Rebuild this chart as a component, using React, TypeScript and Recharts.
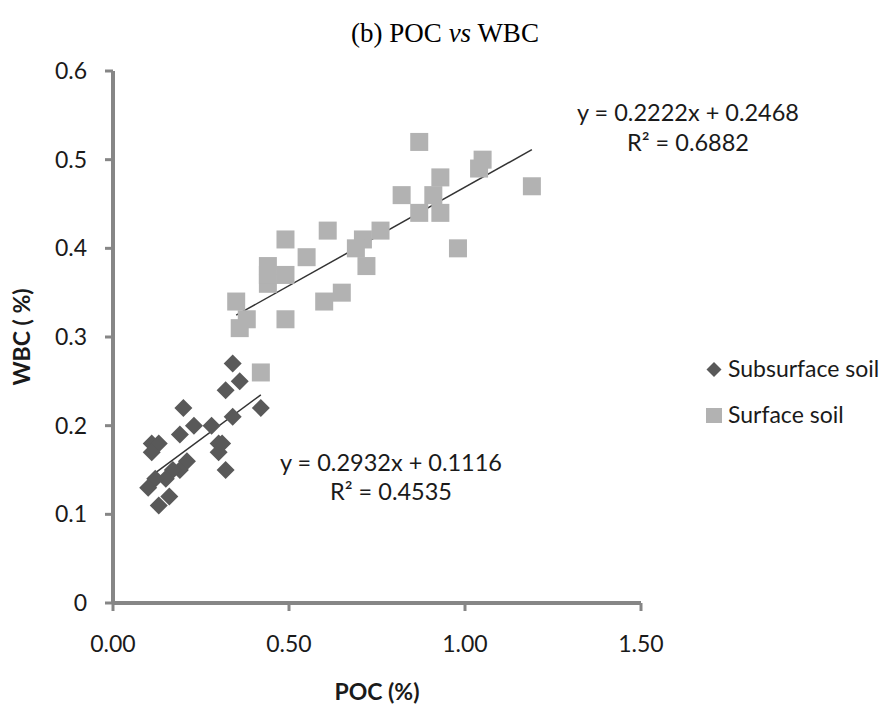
import React from "react";
import {
  ScatterChart,
  Scatter,
  XAxis,
  YAxis,
  ReferenceLine,
} from "recharts";

// POC (%) / WBC (%) pairs
const subsurfacePoc = [
  0.34, 0.36, 0.32, 0.42, 0.2, 0.34, 0.23, 0.28, 0.19, 0.11, 0.13, 0.11, 0.3,
  0.31, 0.3, 0.32, 0.21, 0.19, 0.17, 0.15, 0.12, 0.1, 0.16, 0.13,
];
const subsurfaceWbc = [
  0.27, 0.25, 0.24, 0.22, 0.22, 0.21, 0.2, 0.2, 0.19, 0.18, 0.18, 0.17, 0.18,
  0.18, 0.17, 0.15, 0.16, 0.15, 0.15, 0.14, 0.14, 0.13, 0.12, 0.11,
];
const surfacePoc = [
  0.87, 0.82, 0.87, 0.76, 0.61, 0.49, 0.71, 0.69, 0.55, 0.72, 0.44, 0.44, 0.49,
  0.65, 0.6, 0.35, 0.38, 0.36, 0.49, 0.42, 1.05, 1.04, 0.93, 0.91, 1.19, 0.93,
  0.98, 0.44,
];
const surfaceWbc = [
  0.52, 0.46, 0.44, 0.42, 0.42, 0.41, 0.41, 0.4, 0.39, 0.38, 0.38, 0.36, 0.37,
  0.35, 0.34, 0.34, 0.32, 0.31, 0.32, 0.26, 0.5, 0.49, 0.48, 0.46, 0.47, 0.44,
  0.4, 0.37,
];

// trendlines as printed on the chart
const subTrend = { slope: 0.2932, intercept: 0.1116, from: 0.1, to: 0.42 };
const surfTrend = { slope: 0.2222, intercept: 0.2468, from: 0.35, to: 1.19 };

const xTicks = [0, 0.5, 1, 1.5];
const yTicks = [0, 0.1, 0.2, 0.3, 0.4, 0.5, 0.6];

const subsurfaceData = subsurfacePoc.map((x, i) => ({ x, y: subsurfaceWbc[i] }));
const surfaceData = surfacePoc.map((x, i) => ({ x, y: surfaceWbc[i] }));

const AXIS = "#868686";
const DARK = "#595959";
const LIGHT = "#b2b2b2";
const INK = "#1a1a1a";
const FONT = "Lato, 'Open Sans', sans-serif";

const Diamond = (props: any) => {
  const { cx, cy } = props;
  const r = 9;
  return (
    <path
      d={`M${cx},${cy - r}L${cx + r},${cy}L${cx},${cy + r}L${cx - r},${cy}Z`}
      fill={DARK}
    />
  );
};

const Square = (props: any) => {
  const { cx, cy } = props;
  const s = 18;
  return <rect x={cx - s / 2} y={cy - s / 2} width={s} height={s} fill={LIGHT} />;
};

const seg = (t: typeof subTrend) => [
  { x: t.from, y: t.slope * t.from + t.intercept },
  { x: t.to, y: t.slope * t.to + t.intercept },
];

export default function App() {
  return (
    <div style={{ position: "relative", width: 888, height: 709, background: "#fff" }}>
      <style>{`body{margin:0}`}</style>
      <ScatterChart
        width={888}
        height={709}
        margin={{ top: 71, right: 247, bottom: 46, left: 53 }}
      >
        <XAxis
          type="number"
          dataKey="x"
          domain={[0, 1.5]}
          ticks={xTicks}
          height={60}
          tickFormatter={(v: number) => v.toFixed(2)}
          axisLine={{ stroke: AXIS, strokeWidth: 4 }}
          tickLine={{ stroke: AXIS, strokeWidth: 3 }}
          tickSize={8}
          tickMargin={25}
          tick={{ fill: INK, fontSize: 23, fontFamily: FONT }}
        />
        <YAxis
          type="number"
          dataKey="y"
          domain={[0, 0.6]}
          ticks={yTicks}
          width={60}
          tickFormatter={(v: number) => (v === 0 ? "0" : v.toFixed(1))}
          axisLine={{ stroke: AXIS, strokeWidth: 4 }}
          tickLine={{ stroke: AXIS, strokeWidth: 3 }}
          tickSize={8}
          tickMargin={18}
          tick={{ fill: INK, fontSize: 23, fontFamily: FONT }}
        />
        <Scatter
          name="Surface soil"
          data={surfaceData}
          shape={Square}
          isAnimationActive={false}
        />
        <Scatter
          name="Subsurface soil"
          data={subsurfaceData}
          shape={Diamond}
          isAnimationActive={false}
        />
        <ReferenceLine segment={seg(subTrend)} stroke="#333" strokeWidth={1.5} />
        <ReferenceLine segment={seg(surfTrend)} stroke="#333" strokeWidth={1.5} />
      </ScatterChart>

      {/* titles, equations and legend */}
      <svg
        width={888}
        height={709}
        style={{ position: "absolute", left: 0, top: 0, pointerEvents: "none" }}
      >
        <text
          x={445}
          y={42}
          textAnchor="middle"
          fontFamily="'Liberation Serif', serif"
          fontSize={27}
          fill="#000"
        >
          (b) POC <tspan fontStyle="italic">vs</tspan> WBC
        </text>

        <g fontFamily={FONT} fontSize={23.5} fill={INK} textAnchor="middle">
          <text x={688} y={121}>y = 0.2222x + 0.2468</text>
          <text x={688} y={151}>R² = 0.6882</text>
          <text x={391} y={471}>y = 0.2932x + 0.1116</text>
          <text x={391} y={500}>R² = 0.4535</text>
        </g>

        <g fontFamily={FONT} fontSize={23} fontWeight={700} fill={INK} textAnchor="middle">
          <text x={377} y={700}>POC (%)</text>
          <text x={30} y={337} transform="rotate(-90 30 337)">WBC ( %)</text>
        </g>

        <path d="M714,362L721.5,369.5L714,377L706.5,369.5Z" fill={DARK} />
        <rect x={706} y={408} width={16} height={15} fill={LIGHT} />
        <g fontFamily={FONT} fontSize={23} fill={INK}>
          <text x={728} y={377}>Subsurface soil</text>
          <text x={728} y={423}>Surface soil</text>
        </g>
      </svg>
    </div>
  );
}
